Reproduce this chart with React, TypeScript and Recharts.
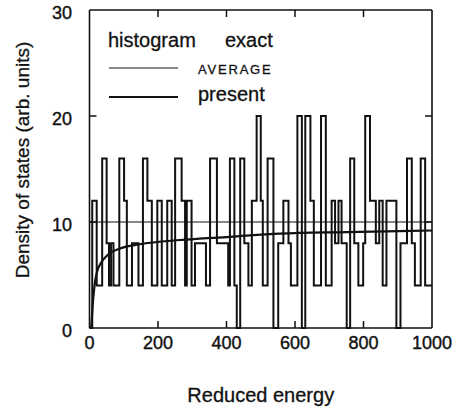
import React from "react";
import { LineChart, Line, XAxis, YAxis } from "recharts";

// histogram: start of each step (reduced energy) and its level
const histStart = [
  0, 8, 21, 37, 50, 57, 63, 70, 87, 101, 109, 124, 143, 156, 169, 182, 198, 211,
  227, 240, 250, 269, 279, 284, 298, 308, 340, 352, 372, 405, 410, 423, 430, 440,
  452, 464, 474, 488, 500, 506, 520, 537, 551, 566, 581, 588, 607, 620, 630, 645,
  655, 676, 690, 707, 717, 727, 736, 751, 761, 773, 785, 799, 805, 819, 836, 846,
  856, 867, 896, 908, 927, 941, 950, 967, 980,
];
const histLevel = [
  0, 12, 4, 16, 8, 4, 8, 4, 16, 12, 4, 8, 4, 16, 12, 4, 12, 4,
  12, 4, 16, 12, 4, 12, 4, 8, 4, 16, 8, 4, 16, 4, 0, 16,
  8, 4, 12, 20, 12, 4, 16, 0, 8, 12, 8, 4, 20, 0, 20, 12,
  4, 20, 4, 12, 8, 12, 8, 0, 16, 8, 4, 8, 20, 12, 8, 12,
  4, 12, 0, 8, 16, 8, 4, 16, 4,
];

// "present" smooth curve
const presentX = [5, 9, 14, 21, 37, 50, 89, 147, 264, 410, 556, 750, 1000];
const presentY = [0, 2, 3.8, 5.2, 6.3, 6.8, 7.5, 7.9, 8.3, 8.6, 8.9, 9.05, 9.2];

// AVERAGE line
const averageX = [0, 1000];
const averageY = [10, 10];

const xTicks = [0, 200, 400, 600, 800, 1000];
const yTicks = [0, 10, 20, 30];

const histData = histStart
  .map((x, i) => ({ x, y: histLevel[i] }))
  .concat([{ x: 1000, y: histLevel[histLevel.length - 1] }]);
const presentData = presentX.map((x, i) => ({ x, y: presentY[i] }));
const averageData = averageX.map((x, i) => ({ x, y: averageY[i] }));

const font = "'Liberation Sans', Arial, sans-serif";
const ink = "#111";
const frame = { stroke: ink, strokeWidth: 1.6 };

const BottomTick = (p: any) => {
  const { x, y, payload } = p;
  const v = payload.value;
  const axisY = y - 8;
  return (
    <g>
      {v > 0 && v < 1000 && (
        <line x1={x} x2={x} y1={axisY} y2={axisY - 7} stroke={ink} strokeWidth={1.5} />
      )}
      <text x={x} y={y} dy="0.71em" textAnchor="middle" fontSize={18} fontFamily={font} fill={ink} stroke={ink} strokeWidth={0.4}>
        {v}
      </text>
    </g>
  );
};

const TopTick = (p: any) => {
  const { x, y, payload } = p;
  const v = payload.value;
  const axisY = y + 8;
  if (v <= 0 || v >= 1000) return <g />;
  return <line x1={x} x2={x} y1={axisY} y2={axisY + 7} stroke={ink} strokeWidth={1.5} />;
};

const LeftTick = (p: any) => {
  const { x, y, payload } = p;
  const v = payload.value;
  const axisX = x + 8;
  return (
    <g>
      {v > 0 && v < 30 && (
        <line x1={axisX} x2={axisX + 7} y1={y} y2={y} stroke={ink} strokeWidth={1.5} />
      )}
      <text x={x - 9.5} y={y + 3} dy="0.355em" textAnchor="end" fontSize={18} fontFamily={font} fill={ink} stroke={ink} strokeWidth={0.4}>
        {v}
      </text>
    </g>
  );
};

const RightTick = (p: any) => {
  const { x, y, payload } = p;
  const v = payload.value;
  const axisX = x - 8;
  if (v <= 0 || v >= 30) return <g />;
  return <line x1={axisX} x2={axisX - 7} y1={y} y2={y} stroke={ink} strokeWidth={1.5} />;
};

const YTitle = (props: any) => {
  const vb = props.viewBox;
  const cx = vb.x + 22;
  const cy = vb.y + vb.height / 2 - 9;
  return (
    <text
      x={cx}
      y={cy}
      transform={`rotate(-90, ${cx}, ${cy})`}
      textAnchor="middle"
      dominantBaseline="central"
      fontSize={19}
      fontFamily={font}
      fill={ink}
      stroke={ink}
      strokeWidth={0.3}
    >
      Density of states (arb. units)
    </text>
  );
};

export default function App() {
  return (
    <div style={{ position: "absolute", left: 0, top: 0, width: 455, height: 411, background: "#fff" }}>
      <LineChart width={455} height={411} margin={{ top: 9, right: 22, bottom: 0, left: 0 }}>
        <XAxis
          xAxisId="bottom"
          dataKey="x"
          type="number"
          domain={[0, 1000]}
          ticks={xTicks}
          height={83}
          tickLine={false}
          axisLine={frame}
          tick={<BottomTick />}
          label={{ value: "Reduced energy", position: "insideBottom", offset: 9, fontSize: 20, fontFamily: font, fill: ink, stroke: ink, strokeWidth: 0.3 }}
        />
        <XAxis
          xAxisId="top"
          orientation="top"
          dataKey="x"
          type="number"
          domain={[0, 1000]}
          ticks={xTicks}
          height={1}
          tickLine={false}
          axisLine={frame}
          tick={<TopTick />}
        />
        <YAxis
          yAxisId="left"
          type="number"
          domain={[0, 30]}
          ticks={yTicks}
          width={89.5}
          tickLine={false}
          axisLine={frame}
          tick={<LeftTick />}
          label={{ content: <YTitle /> }}
        />
        <YAxis
          yAxisId="right"
          orientation="right"
          type="number"
          domain={[0, 30]}
          ticks={yTicks}
          width={1}
          tickLine={false}
          axisLine={frame}
          tick={<RightTick />}
        />
        <Line
          xAxisId="top"
          yAxisId="right"
          data={averageData}
          dataKey="y"
          type="linear"
          stroke="none"
          dot={false}
          legendType="none"
          isAnimationActive={false}
        />
        <Line
          xAxisId="bottom"
          yAxisId="left"
          data={averageData}
          dataKey="y"
          type="linear"
          stroke={ink}
          strokeWidth={1.2}
          dot={false}
          isAnimationActive={false}
        />
        <Line
          xAxisId="bottom"
          yAxisId="left"
          data={histData}
          dataKey="y"
          type="stepAfter"
          stroke={ink}
          strokeWidth={2}
          dot={false}
          isAnimationActive={false}
        />
        <Line
          xAxisId="bottom"
          yAxisId="left"
          data={presentData}
          dataKey="y"
          type="monotone"
          stroke={ink}
          strokeWidth={2.2}
          dot={false}
          isAnimationActive={false}
        />
      </LineChart>
      <svg
        width={455}
        height={411}
        style={{ position: "absolute", left: 0, top: 0, pointerEvents: "none" }}
        fontFamily={font}
        fill={ink}
        stroke={ink}
        strokeWidth={0.3}
      >
        <text x={108} y={47} fontSize={20}>histogram</text>
        <text x={225} y={47} fontSize={20}>exact</text>
        <line x1={109} x2={178} y1={68} y2={68} strokeWidth={1.2} />
        <text x={198} y={74} fontSize={13} letterSpacing={1.8}>AVERAGE</text>
        <line x1={109} x2={178} y1={97} y2={97} strokeWidth={2} />
        <text x={198} y={101} fontSize={20}>present</text>
      </svg>
    </div>
  );
}
